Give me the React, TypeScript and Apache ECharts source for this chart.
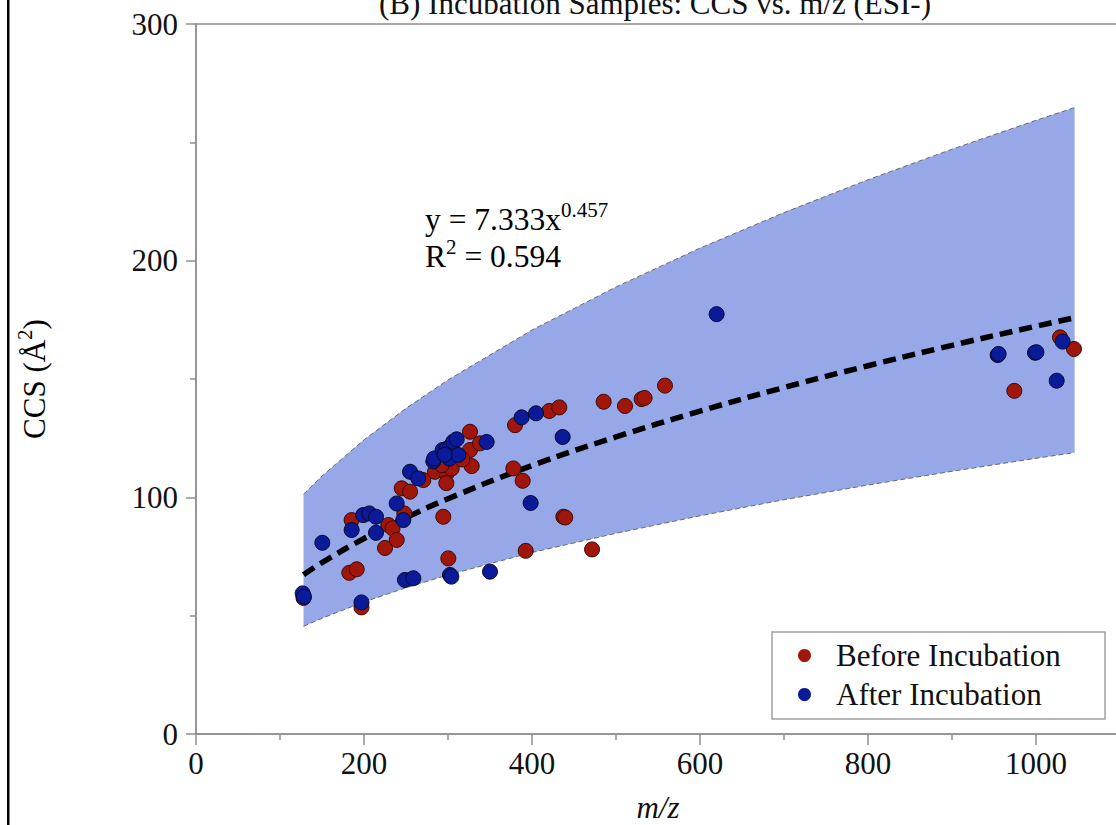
import React, { useEffect, useRef } from 'react';
import * as echarts from 'echarts';

const beforeX = [128, 185.3, 182.5, 191.3, 197, 225, 229, 234, 238.9, 248, 244.9, 254.8, 270.6, 284.5, 298.4, 304.4, 292.5, 294.4, 300.4, 326.2, 326.2, 328.2, 338, 379.8, 377.8, 388.9, 392.5, 420.6, 432.5, 437.3, 439.6, 471.5, 485.3, 510.7, 530.5, 534, 558.3, 974.2, 1028.6, 1045.2, 317, 298];
const beforeY = [57.5, 90.4, 68.1, 69.6, 53.5, 78.6, 88.3, 86.9, 82, 93.2, 103.8, 102.4, 107.3, 110.8, 110.1, 112.2, 113.6, 91.8, 74.2, 127.7, 120, 113.2, 122.8, 130.5, 112.2, 107, 77.4, 136.5, 138, 91.8, 91.5, 78, 140.4, 138.6, 141.5, 142, 147.2, 145, 167.6, 162.7, 116, 106];
const afterX = [127, 128.5, 150.4, 185.3, 199, 206.3, 214.3, 214.3, 197, 238.9, 246.8, 254.8, 264.6, 282.5, 283.5, 293.6, 298.4, 302.4, 306.3, 310.3, 301.6, 312.3, 296, 346, 387.7, 404.8, 436.5, 398.4, 248.8, 258.7, 302.4, 304, 350, 619.8, 954.4, 955.5, 998.8, 1000.5, 1031.7, 1024.6];
const afterY = [59.4, 58, 80.8, 86.2, 92.5, 93.2, 91.8, 85, 55.6, 97.4, 90.4, 110.8, 108, 115.2, 116.4, 120, 120.5, 121.4, 123.5, 124.5, 116.4, 117.9, 118, 123.4, 133.8, 135.5, 125.5, 97.6, 65.1, 65.8, 67.2, 66.5, 68.6, 177.4, 160.1, 160.6, 161.1, 161.3, 165.8, 149.3];

const bandX = [128, 150, 200, 250, 300, 400, 500, 600, 700, 800, 900, 1000, 1046];
const fitY = [67.3, 72.4, 82.6, 91.4, 99.4, 113.4, 125.5, 136.4, 146.4, 155.6, 164.2, 172.3, 175.9];
const upperY = [101.3, 109.0, 124.3, 137.6, 149.6, 170.7, 188.9, 205.3, 220.3, 234.2, 247.1, 259.3, 264.7];
const lowerY = [45.5, 48.9, 55.8, 61.8, 67.2, 76.7, 84.8, 92.2, 99.0, 105.2, 111.0, 116.5, 118.9];

const seriesNames = ['Before Incubation', 'After Incubation'];
const titleText = '(B) Incubation Samples: CCS vs. m/z (ESI-)';

const FONT = "'Liberation Serif', 'Times New Roman', serif";
const AXIS_COLOR = '#8f8f8f';

export default function App() {
  const ref = useRef<HTMLDivElement>(null);

  useEffect(() => {
    if (!ref.current) return;
    const chart = echarts.init(ref.current, undefined, { renderer: 'svg' });
    const axisLineStyle = { color: AXIS_COLOR, width: 1.5 };
    const richBase = {
      b: { fontSize: 31.5, fontFamily: FONT, color: '#111', lineHeight: 40 },
      s: { fontSize: 21, fontFamily: FONT, color: '#111', lineHeight: 20, verticalAlign: 'top' },
    };
    const option = {
      animation: false,
      backgroundColor: '#ffffff',
      grid: {
        left: 196,
        top: 24,
        width: 924,
        height: 710,
        show: true,
        borderColor: AXIS_COLOR,
        borderWidth: 1.5,
        backgroundColor: 'transparent',
      },
      xAxis: {
        type: 'value',
        min: 0,
        max: 1100,
        interval: 200,
        z: 10,
        axisLine: { show: true, lineStyle: axisLineStyle },
        axisTick: { show: true, inside: false, length: 11, lineStyle: axisLineStyle },
        minorTick: { show: true, splitNumber: 2, length: 6, lineStyle: axisLineStyle },
        splitLine: { show: false },
        minorSplitLine: { show: false },
        axisLabel: {
          fontSize: 31,
          fontFamily: FONT,
          color: '#111',
          margin: 14,
          showMaxLabel: false,
          formatter: (v: number) => String(v),
        },
      },
      yAxis: {
        type: 'value',
        min: 0,
        max: 300,
        interval: 100,
        z: 10,
        axisLine: { show: true, lineStyle: axisLineStyle },
        axisTick: { show: true, inside: false, length: 10, lineStyle: axisLineStyle },
        minorTick: { show: true, splitNumber: 2, length: 6, lineStyle: axisLineStyle },
        splitLine: { show: false },
        minorSplitLine: { show: false },
        axisLabel: { fontSize: 31, fontFamily: FONT, color: '#111', margin: 18, formatter: (v: number) => String(v) },
      },
      legend: {
        data: seriesNames,
        orient: 'vertical',
        left: 798,
        top: 640,
        padding: 0,
        itemGap: 8,
        itemWidth: 13,
        itemHeight: 13,
        icon: 'circle',
        z: 20,
        itemStyle: { borderWidth: 0 },
        textStyle: { fontSize: 31, fontFamily: FONT, color: '#111', padding: [0, 0, 0, 20] },
      },
      series: [
        {
          name: 'bandFill',
          type: 'custom',
          silent: true,
          z: 1,
          data: [[bandX[0], upperY[0]]],
          renderItem: (_params: any, api: any) => {
            const pts: number[][] = [];
            for (let i = 0; i < bandX.length; i++) pts.push(api.coord([bandX[i], upperY[i]]));
            for (let i = bandX.length - 1; i >= 0; i--) pts.push(api.coord([bandX[i], lowerY[i]]));
            return { type: 'polygon', shape: { points: pts }, style: { fill: '#97a8e8', stroke: 'none' } };
          },
        },
        {
          name: 'upper',
          type: 'line',
          data: bandX.map((x, i) => [x, upperY[i]]),
          smooth: false,
          symbol: 'none',
          silent: true,
          lineStyle: { color: '#6a6a6a', width: 1, type: [5, 3] },
          z: 2,
        },
        {
          name: 'lower',
          type: 'line',
          data: bandX.map((x, i) => [x, lowerY[i]]),
          smooth: false,
          symbol: 'none',
          silent: true,
          lineStyle: { color: '#6a6a6a', width: 1, type: [5, 3] },
          z: 2,
        },
        {
          name: 'fit',
          type: 'line',
          data: bandX.map((x, i) => [x, fitY[i]]),
          smooth: true,
          symbol: 'none',
          silent: true,
          lineStyle: { color: '#000', width: 5.5, type: [13, 7] },
          z: 3,
        },
        {
          name: seriesNames[0],
          type: 'scatter',
          data: beforeX.map((x, i) => [x, beforeY[i]]),
          symbolSize: 15,
          itemStyle: { color: '#a0160a', borderColor: '#3a0a05', borderWidth: 1, opacity: 1 },
          z: 4,
        },
        {
          name: seriesNames[1],
          type: 'scatter',
          data: afterX.map((x, i) => [x, afterY[i]]),
          symbolSize: 15,
          itemStyle: { color: '#0a1a98', borderColor: '#05092e', borderWidth: 1, opacity: 1 },
          z: 5,
        },
      ],
      graphic: [
        { type: 'rect', z: 100, shape: { x: 7, y: 0, width: 2.5, height: 825 }, style: { fill: '#000' } },
        {
          type: 'text',
          z: 100,
          x: 655,
          y: 3,
          style: { text: titleText, fontSize: 31, fontFamily: FONT, fill: '#111', align: 'center', verticalAlign: 'middle' },
        },
        {
          type: 'text',
          z: 100,
          x: 425,
          y: 199,
          style: { text: '{b|y = 7.333x}{s|0.457}', align: 'left', verticalAlign: 'top', rich: richBase },
        },
        {
          type: 'text',
          z: 100,
          x: 425,
          y: 236,
          style: { text: '{b|R}{s|2}{b| = 0.594}', align: 'left', verticalAlign: 'top', rich: richBase },
        },
        {
          type: 'text',
          z: 100,
          x: 34,
          y: 379,
          rotation: Math.PI / 2,
          style: {
            text: '{b|CCS (Å}{s|2}{b|)}',
            align: 'center',
            verticalAlign: 'middle',
            rich: {
              b: { fontSize: 31, fontFamily: FONT, color: '#111', lineHeight: 40 },
              s: { fontSize: 21, fontFamily: FONT, color: '#111', lineHeight: 20, verticalAlign: 'top' },
            },
          },
        },
        {
          type: 'text',
          z: 100,
          x: 658,
          y: 807,
          style: { text: 'm/z', fontSize: 31, fontStyle: 'italic', fontFamily: FONT, fill: '#111', align: 'center', verticalAlign: 'middle' },
        },
        {
          type: 'rect',
          z: 15,
          shape: { x: 772, y: 632, width: 333, height: 87 },
          style: { fill: '#fff', stroke: '#a0a0a0', lineWidth: 1.5 },
        },
      ],
    };
    chart.setOption(option as any);
    return () => chart.dispose();
  }, []);

  return (
    <div style={{ position: 'absolute', left: 0, top: 0, width: 1116, height: 825, overflow: 'hidden', background: '#fff' }}>
      <div ref={ref} style={{ width: 1140, height: 825 }} />
    </div>
  );
}
